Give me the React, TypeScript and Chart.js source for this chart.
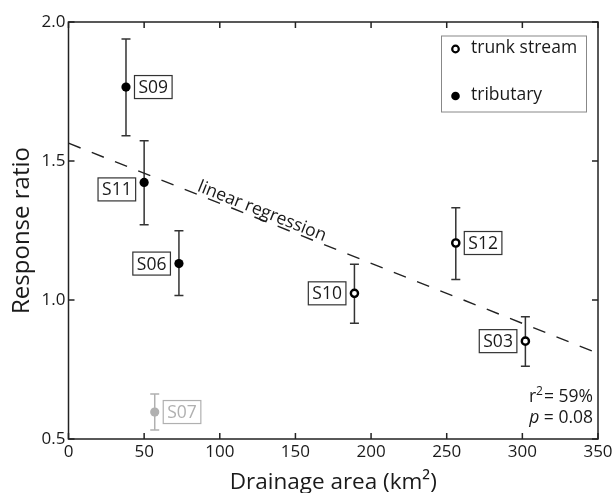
import { useEffect, useRef } from "react";
import { Chart, registerables } from "chart.js";

Chart.register(...registerables);

// ---- data ----
const SITES = ["S09", "S11", "S06", "S07", "S10", "S12", "S03"];
const AREA = [38, 50, 73, 57, 189, 256, 302];
const RATIO = [1.766, 1.423, 1.131, 0.597, 1.024, 1.205, 0.852];
const ERR_HIGH = [1.939, 1.573, 1.249, 0.662, 1.129, 1.332, 0.94];
const ERR_LOW = [1.591, 1.271, 1.016, 0.532, 0.916, 1.074, 0.762];
const TYPE = ["tributary", "tributary", "tributary", "excluded", "trunk", "trunk", "trunk"];
const REG_X = [0, 350];
const REG_Y = [1.564, 0.808];
const X_TICKS = [0, 50, 100, 150, 200, 250, 300, 350];
const Y_TICKS = [0.5, 1.0, 1.5, 2.0];
const LEGEND_LABELS = ["trunk stream", "tributary"];
const REG_LABEL = "linear regression";
const R2_TEXT = "59%";
const P_TEXT = "0.08";
const X_TITLE = "Drainage area (km²)";
const Y_TITLE = "Response ratio";

// ---- styles ----
const LABEL_SIDE = ["right", "left", "left", "right", "left", "right", "left"];
const LABEL_DY = [0, 7, 0, 0, 0, 0, 0];
const FONT = "'Open Sans', sans-serif";
const INK = "#1a1a1a";
const GREY = "#b0b0b0";

const idx = (t: string) => SITES.map((_, i) => i).filter((i) => TYPE[i] === t);

const annotPlugin = {
  id: "annot",
  beforeDatasetsDraw(chart: any) {
    const { ctx, scales } = chart;
    const x = scales.x, y = scales.y;
    ctx.save();
    SITES.forEach((_, i) => {
      const px = x.getPixelForValue(AREA[i]);
      const yt = y.getPixelForValue(ERR_HIGH[i]);
      const yb = y.getPixelForValue(ERR_LOW[i]);
      ctx.strokeStyle = TYPE[i] === "excluded" ? GREY : "#333";
      ctx.lineWidth = 1.5;
      ctx.beginPath();
      ctx.moveTo(px, yt);
      ctx.lineTo(px, yb);
      ctx.moveTo(px - 4.5, yt);
      ctx.lineTo(px + 4.5, yt);
      ctx.moveTo(px - 4.5, yb);
      ctx.lineTo(px + 4.5, yb);
      ctx.stroke();
    });
    ctx.restore();
  },
  afterDatasetsDraw(chart: any) {
    const { ctx, chartArea: ca, scales } = chart;
    const x = scales.x, y = scales.y;
    ctx.save();
    // frame
    ctx.strokeStyle = "#222";
    ctx.lineWidth = 1.5;
    ctx.strokeRect(ca.left, ca.top, ca.right - ca.left, ca.bottom - ca.top);
    // inward ticks on all sides
    const TL = 6;
    ctx.beginPath();
    X_TICKS.forEach((v) => {
      const px = x.getPixelForValue(v);
      ctx.moveTo(px, ca.bottom);
      ctx.lineTo(px, ca.bottom - TL);
      ctx.moveTo(px, ca.top);
      ctx.lineTo(px, ca.top + TL);
    });
    Y_TICKS.forEach((v) => {
      const py = y.getPixelForValue(v);
      ctx.moveTo(ca.left, py);
      ctx.lineTo(ca.left + TL, py);
      ctx.moveTo(ca.right, py);
      ctx.lineTo(ca.right - TL, py);
    });
    ctx.stroke();

    // site labels
    ctx.font = `17.5px ${FONT}`;
    ctx.textBaseline = "middle";
    SITES.forEach((s, i) => {
      const px = x.getPixelForValue(AREA[i]);
      const py = y.getPixelForValue(RATIO[i]) + LABEL_DY[i];
      const tw = ctx.measureText(s).width;
      const bw = tw + 8;
      const bh = 23;
      const gap = 8.5;
      const bx = LABEL_SIDE[i] === "right" ? px + gap : px - gap - bw;
      const col = TYPE[i] === "excluded" ? GREY : INK;
      ctx.fillStyle = "#fff";
      ctx.fillRect(bx, py - bh / 2, bw, bh);
      ctx.strokeStyle = TYPE[i] === "excluded" ? GREY : "#333";
      ctx.lineWidth = 1.2;
      ctx.strokeRect(bx, py - bh / 2, bw, bh);
      ctx.fillStyle = col;
      ctx.textAlign = "center";
      ctx.fillText(s, bx + bw / 2, py + 1);
    });

    // regression label
    const x0 = x.getPixelForValue(REG_X[0]);
    const y0 = y.getPixelForValue(REG_Y[0]);
    const x1 = x.getPixelForValue(REG_X[1]);
    const y1 = y.getPixelForValue(REG_Y[1]);
    const ang = Math.atan2(y1 - y0, x1 - x0);
    const t = (259 - x0) / (x1 - x0);
    const cx = x0 + t * (x1 - x0);
    const cy = y0 + t * (y1 - y0);
    ctx.translate(cx, cy);
    ctx.rotate(ang);
    ctx.font = `17.5px ${FONT}`;
    ctx.fillStyle = INK;
    ctx.textAlign = "center";
    ctx.textBaseline = "alphabetic";
    ctx.fillText(REG_LABEL, 0, -3);
    ctx.setTransform(1, 0, 0, 1, 0, 0);
    ctx.restore();
    ctx.save();

    // legend
    const lx = 441.5, ly = 36, lw = 145, lh = 76;
    ctx.fillStyle = "#fff";
    ctx.fillRect(lx, ly, lw, lh);
    ctx.strokeStyle = "#888";
    ctx.lineWidth = 1;
    ctx.strokeRect(lx, ly, lw, lh);
    ctx.beginPath();
    ctx.arc(455.5, 49, 3.3, 0, Math.PI * 2);
    ctx.strokeStyle = "#000";
    ctx.lineWidth = 2.2;
    ctx.stroke();
    ctx.beginPath();
    ctx.arc(455.5, 96, 4.3, 0, Math.PI * 2);
    ctx.fillStyle = "#000";
    ctx.fill();
    ctx.font = `17.5px ${FONT}`;
    ctx.fillStyle = INK;
    ctx.textAlign = "left";
    ctx.textBaseline = "middle";
    ctx.fillText(LEGEND_LABELS[0], 471, 48);
    ctx.fillText(LEGEND_LABELS[1], 471, 95);

    // stats text
    const rx = 593;
    ctx.textBaseline = "alphabetic";
    ctx.textAlign = "right";
    ctx.font = `17.5px ${FONT}`;
    const rest = "= " + R2_TEXT;
    ctx.fillText(rest, rx, 402);
    const rw = ctx.measureText(rest).width;
    ctx.font = `12px ${FONT}`;
    ctx.fillText("2", rx - rw - 1, 395);
    const w2 = ctx.measureText("2").width;
    ctx.font = `17.5px ${FONT}`;
    ctx.fillText("r", rx - rw - 1 - w2, 402);
    const prest = "= " + P_TEXT;
    ctx.fillText(prest, rx, 423);
    const pw = ctx.measureText(prest).width;
    ctx.font = `italic 17.5px ${FONT}`;
    ctx.fillText("p ", rx - pw, 423);
    ctx.restore();
  },
};

export default function App() {
  const ref = useRef<HTMLCanvasElement | null>(null);
  useEffect(() => {
    if (!ref.current) return;
    const pts = (ids: number[]) => ids.map((i) => ({ x: AREA[i], y: RATIO[i] }));
    const chart = new Chart(ref.current, {
      type: "scatter",
      data: {
        datasets: [
          {
            label: "trunk stream",
            data: pts(idx("trunk")),
            pointStyle: "circle",
            pointRadius: 3.6,
            pointBackgroundColor: "#fff",
            pointBorderColor: "#000",
            pointBorderWidth: 2.4,
            order: 1,
          },
          {
            label: "tributary",
            data: pts(idx("tributary")),
            pointRadius: 4.6,
            pointBackgroundColor: "#000",
            pointBorderColor: "#000",
            pointBorderWidth: 0,
            order: 1,
          },
          {
            label: "excluded",
            data: pts(idx("excluded")),
            pointRadius: 4.6,
            pointBackgroundColor: GREY,
            pointBorderColor: GREY,
            pointBorderWidth: 0,
            order: 1,
          },
          {
            label: "linear regression",
            data: REG_X.map((v, i) => ({ x: v, y: REG_Y[i] })),
            showLine: true,
            borderColor: "#222",
            borderWidth: 1.4,
            borderDash: [13, 12],
            pointRadius: 0,
            order: 10,
          } as any,
        ],
      },
      options: {
        animation: false,
        responsive: true,
        maintainAspectRatio: false,
        layout: { padding: { top: 22, right: 18, left: 0, bottom: 0 } },
        plugins: { legend: { display: false }, tooltip: { enabled: false } },
        scales: {
          x: {
            type: "linear",
            min: 0,
            max: 350,
            afterBuildTicks: (s: any) => {
              s.ticks = X_TICKS.map((v) => ({ value: v }));
            },
            afterFit: (s: any) => {
              s.height = 54;
            },
            ticks: {
              color: INK,
              font: { family: FONT, size: 17 },
              padding: 3,
              maxRotation: 0,
              callback: (v: any) => String(v),
            },
            grid: { display: false, drawTicks: false },
            border: { display: false },
            title: {
              display: true,
              text: X_TITLE,
              color: INK,
              font: { family: FONT, size: 22.5 },
              padding: { top: 0, bottom: -3.5 },
            },
          },
          y: {
            type: "linear",
            min: 0.5,
            max: 2.0,
            afterBuildTicks: (s: any) => {
              s.ticks = Y_TICKS.map((v) => ({ value: v }));
            },
            afterFit: (s: any) => {
              s.width = 68.5;
            },
            ticks: {
              color: INK,
              font: { family: FONT, size: 17 },
              padding: 3,
              callback: (v: any) => Number(v).toFixed(1),
            },
            grid: { display: false, drawTicks: false },
            border: { display: false },
            title: {
              display: true,
              text: Y_TITLE,
              color: INK,
              font: { family: FONT, size: 24 },
              padding: { top: 8, bottom: 0 },
            },
          },
        },
      },
      plugins: [annotPlugin],
    } as any);
    return () => chart.destroy();
  }, []);
  return (
    <div style={{ position: "fixed", left: 0, top: 0, width: 616, height: 493, background: "#fff" }}>
      <canvas ref={ref} />
    </div>
  );
}
